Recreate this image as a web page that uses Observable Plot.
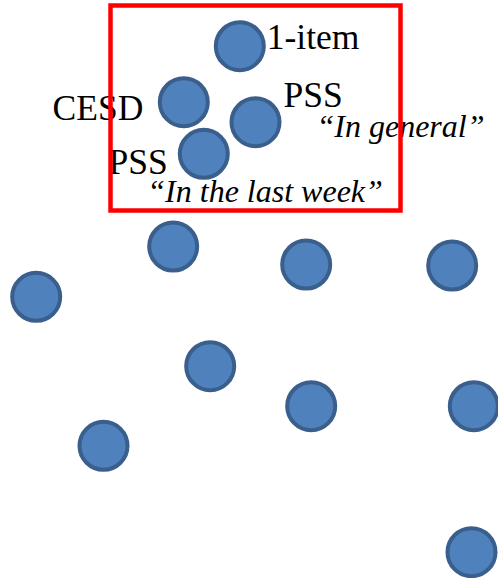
<!DOCTYPE html>
<html>
<head>
<meta charset="utf-8">
<script src="https://cdn.jsdelivr.net/npm/d3@7"></script>
<script src="https://cdn.jsdelivr.net/npm/@observablehq/plot@0.6"></script>
<style>
  html, body { margin: 0; padding: 0; background: #ffffff; }
</style>
</head>
<body>
<div id="chart"></div>
<script>
// Point positions (abstract map units; y grows downward)
const pointX = [239.3, 183.3, 255.0, 203.3, 172.7, 305.7, 451.7, 35.7, 209.7, 310.7, 473.3, 103.0, 471.0];
const pointY = [45.7, 101.7, 121.7, 153.3, 246.0, 264.0, 265.0, 296.3, 365.7, 405.7, 405.7, 445.3, 551.7];
const pointName = ["1-item", "CESD", "PSS (in general)", "PSS (in the last week)", "", "", "", "", "", "", "", "", ""];

// Annotation texts, each attached to a point index
const labelText = ["1-item", "CESD", "PSS", "\u201CIn general\u201D", "PSS", "\u201CIn the last week\u201D"];
const labelPoint = [0, 1, 2, 2, 3, 3];

// Highlight box around the measure cluster (map units)
const boxX = [110.5, 400.5];
const boxY = [5.5, 210.5];

const points = pointX.map((x, i) => ({x, y: pointY[i], name: pointName[i]}));

// label styling / offsets (presentation, not data)
const labelStyle = [
  {anchor: "start", dx: 27,    dy: -8.8,  italic: false},
  {anchor: "end",   dx: -40.5, dy: 6.9,   italic: false},
  {anchor: "start", dx: 28,    dy: -26.4, italic: false},
  {anchor: "start", dx: 61,    dy: 4.8,   italic: true},
  {anchor: "end",   dx: -36,   dy: 8.6,   italic: false},
  {anchor: "start", dx: -56.5, dy: 38.2,  italic: true}
];

const textMarks = labelText.map((t, i) => {
  const s = labelStyle[i];
  return Plot.text([points[labelPoint[i]]], {
    x: "x", y: "y", text: () => t,
    textAnchor: s.anchor, dx: s.dx, dy: s.dy,
    fontFamily: "'Liberation Serif', 'Times New Roman', serif",
    fontSize: s.italic ? 32 : 35.5,
    fontStyle: s.italic ? "italic" : "normal",
    fill: "#000000"
  });
});

const chart = Plot.plot({
  width: 498,
  height: 578,
  margin: 0,
  x: {domain: [0, 498], range: [0, 498], axis: null},
  y: {domain: [0, 578], range: [0, 578], axis: null},
  style: {background: "#ffffff", overflow: "visible"},
  marks: [
    Plot.dot(points, {x: "x", y: "y", r: 24, fill: "#4F81BD", stroke: "#3A5F8C", strokeWidth: 4, fillOpacity: 1}),
    ...textMarks,
    Plot.rect([{x1: boxX[0], x2: boxX[1], y1: boxY[0], y2: boxY[1]}], {
      x1: "x1", x2: "x2", y1: "y1", y2: "y2",
      fill: "none", stroke: "#FF0000", strokeWidth: 4.5
    })
  ]
});
document.getElementById("chart").appendChild(chart);
</script>
</body>
</html>
